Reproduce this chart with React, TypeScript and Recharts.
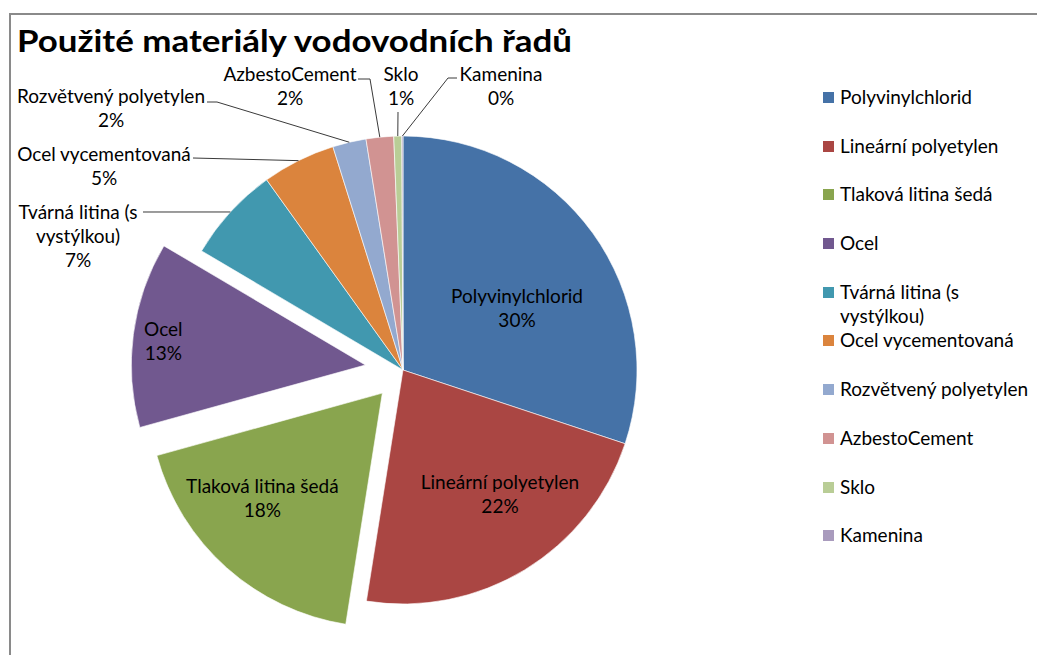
import { Cell, Legend, Pie, PieChart } from 'recharts';

const NAMES = [
  'Polyvinylchlorid',
  'Lineární polyetylen',
  'Tlaková litina šedá',
  'Ocel',
  'Tvárná litina (s vystýlkou)',
  'Ocel vycementovaná',
  'Rozvětvený polyetylen',
  'AzbestoCement',
  'Sklo',
  'Kamenina',
];
// share of total length, %
const SHARES = [30.1, 22.4, 18.2, 12.8, 6.6, 5.06, 2.31, 1.9, 0.55, 0.08];
const COLORS = [
  '#4572A7', '#AA4643', '#89A54E', '#71588F', '#4198AF',
  '#DB843D', '#93A9CF', '#D19392', '#B9CD96', '#A99BBD',
];
const TITLE = 'Použité materiály vodovodních řadů';

// pulled-out slices, px
const EXPLODE: Record<string, number> = { 'Tlaková litina šedá': 31, Ocel: 38 };

const data = NAMES.map((name, i) => ({ name, value: SHARES[i] }));

const CX = 403;
const CY = 370;
const R = 234;
const FONT = 'Lato, "Noto Sans", sans-serif';
const FS = 19;
const LINE_H = 24;
const RAD = Math.PI / 180;

// label placement (offsets from pie centre)
const INSIDE: Record<string, [number, number]> = {
  Polyvinylchlorid: [114, -73],
  'Lineární polyetylen': [97, 113],
  'Tlaková litina šedá': [-120, 94],
  Ocel: [-202, -35],
};
const OUTSIDE: Record<string, { at: [number, number]; leader: [number, number][] }> = {
  'Tvárná litina (s vystýlkou)': { at: [-325, -157], leader: [[-260, -158]] },
  'Ocel vycementovaná': { at: [-299, -215], leader: [[-210, -212]] },
  'Rozvětvený polyetylen': { at: [-292, -273], leader: [[-186, -268], [-196, -268]] },
  AzbestoCement: { at: [-113, -295], leader: [[-33, -291], [-45, -291]] },
  Sklo: { at: [-2, -295], leader: [[-5, -258]] },
  Kamenina: { at: [98, -295], leader: [[45, -292], [54, -292]] },
};

const total = SHARES.reduce((a, b) => a + b, 0);
function shiftFor(name: string): [number, number] {
  const e = EXPLODE[name];
  if (!e) return [0, 0];
  const i = NAMES.indexOf(name);
  const before = SHARES.slice(0, i).reduce((a, b) => a + b, 0);
  const mid = 90 - (360 * (before + SHARES[i] / 2)) / total;
  return [Math.cos(mid * RAD) * e, -Math.sin(mid * RAD) * e];
}

function wrap(text: string, max = 22) {
  const out: string[] = [];
  let cur = '';
  for (const w of text.split(' ')) {
    if (cur && (cur + ' ' + w).length > max) {
      out.push(cur);
      cur = w;
    } else cur = cur ? cur + ' ' + w : w;
  }
  if (cur) out.push(cur);
  return out;
}

function SliceLabel(props: any) {
  const { cx, cy, midAngle, outerRadius, percent, name } = props;
  const lines = [...wrap(name), `${Math.round(percent * 100)}%`];
  const inside = INSIDE[name];
  if (inside) {
    const [sx, sy] = shiftFor(name);
    const x = cx + sx + inside[0];
    const y = cy + sy + inside[1];
    return (
      <text textAnchor="middle" fontFamily={FONT} fontSize={FS} fill="#000">
        {lines.map((l, i) => (
          <tspan key={i} x={x} y={y + i * LINE_H + 6}>{l}</tspan>
        ))}
      </text>
    );
  }
  const o = OUTSIDE[name];
  if (!o) return null;
  const ex = cx + outerRadius * Math.cos(-midAngle * RAD);
  const ey = cy + outerRadius * Math.sin(-midAngle * RAD);
  const pts = [[ex, ey], ...o.leader.map(([dx, dy]) => [cx + dx, cy + dy])];
  const x = cx + o.at[0];
  const y = cy + o.at[1];
  return (
    <g>
      <polyline points={pts.map((p) => p.join(',')).join(' ')} fill="none" stroke="#3a3a3a" strokeWidth={1} />
      <text textAnchor="middle" fontFamily={FONT} fontSize={FS} fill="#000">
        {lines.map((l, i) => (
          <tspan key={i} x={x} y={y + i * LINE_H + 6}>{l}</tspan>
        ))}
      </text>
    </g>
  );
}

function LegendBox({ payload }: any) {
  // keep the series order, not the alphabetical one
  const byName: Record<string, string> = {};
  (payload || []).forEach((p: any) => { byName[p.value] = p.color; });
  const items = NAMES.map((n, i) => ({ value: n, color: byName[n] || COLORS[i] }));
  return (
    <div style={{ fontFamily: FONT, fontSize: FS, lineHeight: `${LINE_H}px`, color: '#000' }}>
      {items.map((it) => (
        <div key={it.value} style={{ height: 48.7, display: 'flex', alignItems: 'flex-start' }}>
          <span style={{ width: 11, height: 11, marginTop: 7, marginRight: 6, background: it.color, flex: 'none' }} />
          <span style={{ width: 190 }}>{it.value}</span>
        </div>
      ))}
    </div>
  );
}

export default function App() {
  return (
    <div style={{ position: 'absolute', left: 0, top: 0, width: 1037, height: 655, overflow: 'hidden', background: '#fff' }}>
      <div
        style={{
          position: 'absolute', left: 9, top: 13, width: 1028, height: 642, boxSizing: 'border-box',
          borderTop: '2px solid #8a8a8a', borderLeft: '2px solid #8a8a8a',
        }}
      />
      <svg width={1037} height={60} style={{ position: 'absolute', left: 0, top: 0 }}>
        <text
          x={17} y={52} fontFamily={FONT} fontSize={31} fontWeight={700} fill="#000"
          textLength={555} lengthAdjust="spacingAndGlyphs"
        >
          {TITLE}
        </text>
      </svg>
      <div style={{ position: 'absolute', left: 0, top: 0 }}>
        <PieChart width={1037} height={655} margin={{ top: 0, right: 0, bottom: 0, left: 0 }}>
          <Pie
            data={data}
            dataKey="value"
            nameKey="name"
            cx={CX}
            cy={CY}
            outerRadius={R}
            startAngle={90}
            endAngle={-270}
            stroke="#ffffff"
            strokeOpacity={0.6}
            strokeWidth={1}
            label={SliceLabel}
            labelLine={false}
            isAnimationActive={false}
          >
            {data.map((d, i) => {
              const [sx, sy] = shiftFor(d.name);
              return <Cell key={d.name} fill={COLORS[i]} transform={`translate(${sx},${sy})`} />;
            })}
          </Pie>
          <Legend
            layout="vertical"
            align="right"
            verticalAlign="top"
            content={LegendBox}
            wrapperStyle={{ position: 'absolute', left: 823, top: 85, right: 'auto', width: 214 }}
          />
        </PieChart>
      </div>
    </div>
  );
}
